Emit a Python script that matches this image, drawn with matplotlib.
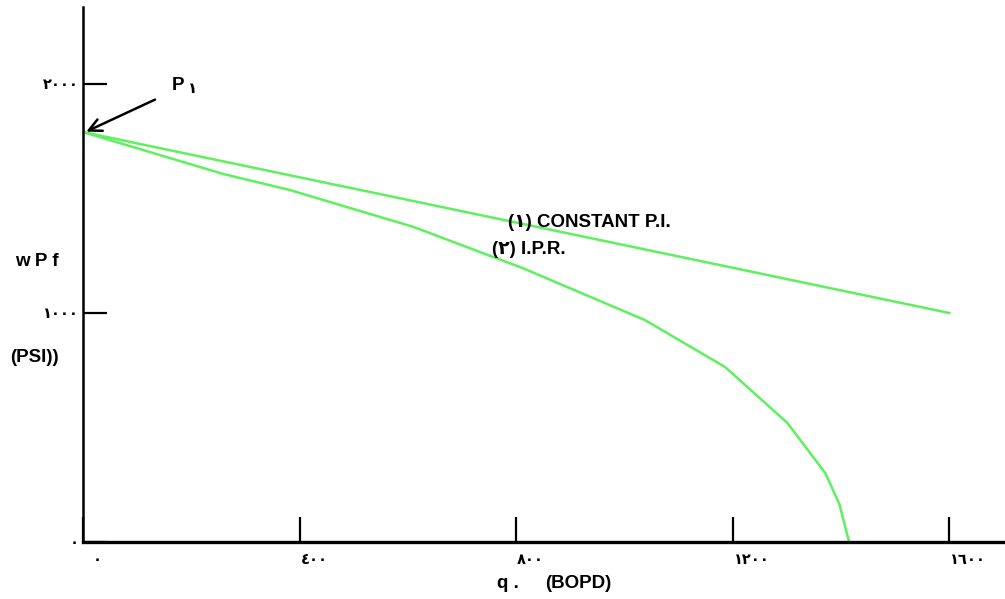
import matplotlib
matplotlib.use("Agg")
import matplotlib.pyplot as plt
from matplotlib.transforms import ScaledTranslation

# ---- data ----
const_q = [0, 1600]
const_pwf = [1790, 1000]

ipr_q = [0, 259, 382, 610, 811, 1038, 1186, 1301, 1371, 1397, 1415]
ipr_pwf = [1790, 1607, 1537, 1376, 1197, 969, 764, 520, 301, 166, 0]

x_ticks = [0, 400, 800, 1200, 1600]
x_tick_labels = ["٠", "٤٠٠", "٨٠٠", "١٢٠٠", "١٦٠٠"]
y_ticks = [0, 1000, 2000]
y_tick_labels = ["٠", "١٠٠٠", "٢٠٠٠"]

label_const = "(١) CONSTANT P.I."
label_ipr = "(٢) I.P.R."
label_p = "P"
label_p_sub = "١"
y_title_1 = "w P f"
y_title_2 = "(PSI))"
x_title_1 = "q ."
x_title_2 = "(BOPD)"

FAM = ["Liberation Sans", "DejaVu Sans"]
plt.rcParams["font.family"] = FAM
GREEN = "#5ef05e"

W, H = 1005, 599
fig = plt.figure(figsize=(W / 100, H / 100), dpi=100)
ax = fig.add_axes([83 / W, (H - 542) / H, (W - 83) / W, (542 - 7) / H])

ax.plot(const_q, const_pwf, color=GREEN, lw=1.8)
ax.plot(ipr_q, ipr_pwf, color=GREEN, lw=1.8)

ax.set_xlim(0, 1703)
ax.set_ylim(0, 2336)
for s in ("top", "right"):
    ax.spines[s].set_visible(False)
ax.spines["left"].set_linewidth(1.8)
ax.spines["bottom"].set_linewidth(2.4)

ax.set_xticks(x_ticks)
ax.set_xticklabels(x_tick_labels, fontsize=10.5, fontweight="bold", ha="left")
ax.set_yticks(y_ticks)
ax.set_yticklabels(y_tick_labels, fontsize=10.5, fontweight="bold")
ax.tick_params(axis="x", direction="in", length=18, width=1.6, pad=8)
ax.tick_params(axis="y", direction="in", length=17, width=1.6, pad=3)
for lab in ax.get_xticklabels():
    lab.set_transform(lab.get_transform() + ScaledTranslation(1 / 100, 0, fig.dpi_scale_trans))
xl = ax.get_xticklabels()[0]
xl.set_horizontalalignment("center")
xl.set_transform(xl.get_transform() + ScaledTranslation(13 / 100, 0, fig.dpi_scale_trans))

# arrow to P1
ax.annotate("", xy=(ipr_q[0] + 6, ipr_pwf[0] + 2), xycoords="data",
            xytext=(66 * 0.72 + 2, 32 * 0.72), textcoords="offset points",
            arrowprops=dict(arrowstyle="->,head_length=0.9,head_width=0.45",
                            lw=1.8, color="black", shrinkA=0, shrinkB=0))

fs = 13.5
fig.text(172 / W, 1 - 85 / H, label_p, fontsize=fs, fontweight="bold", va="center", ha="left")
fig.text(188 / W, 1 - 89 / H, label_p_sub, fontsize=11, fontweight="bold", va="center", ha="left")
fig.text(508 / W, 1 - 222 / H, label_const, fontsize=fs, fontweight="bold", va="center", ha="left")
fig.text(492 / W, 1 - 250 / H, label_ipr, fontsize=fs, fontweight="bold", va="center", ha="left")
fig.text(15 / W, 1 - 262 / H, y_title_1, fontsize=fs, fontweight="bold", va="center", ha="left")
fig.text(10 / W, 1 - 357 / H, y_title_2, fontsize=fs, fontweight="bold", va="center", ha="left")
fig.text(497 / W, 1 - 583 / H, x_title_1, fontsize=fs, fontweight="bold", va="center", ha="left")
fig.text(545 / W, 1 - 583 / H, x_title_2, fontsize=fs, fontweight="bold", va="center", ha="left")

fig.savefig("out.png", dpi=100)
